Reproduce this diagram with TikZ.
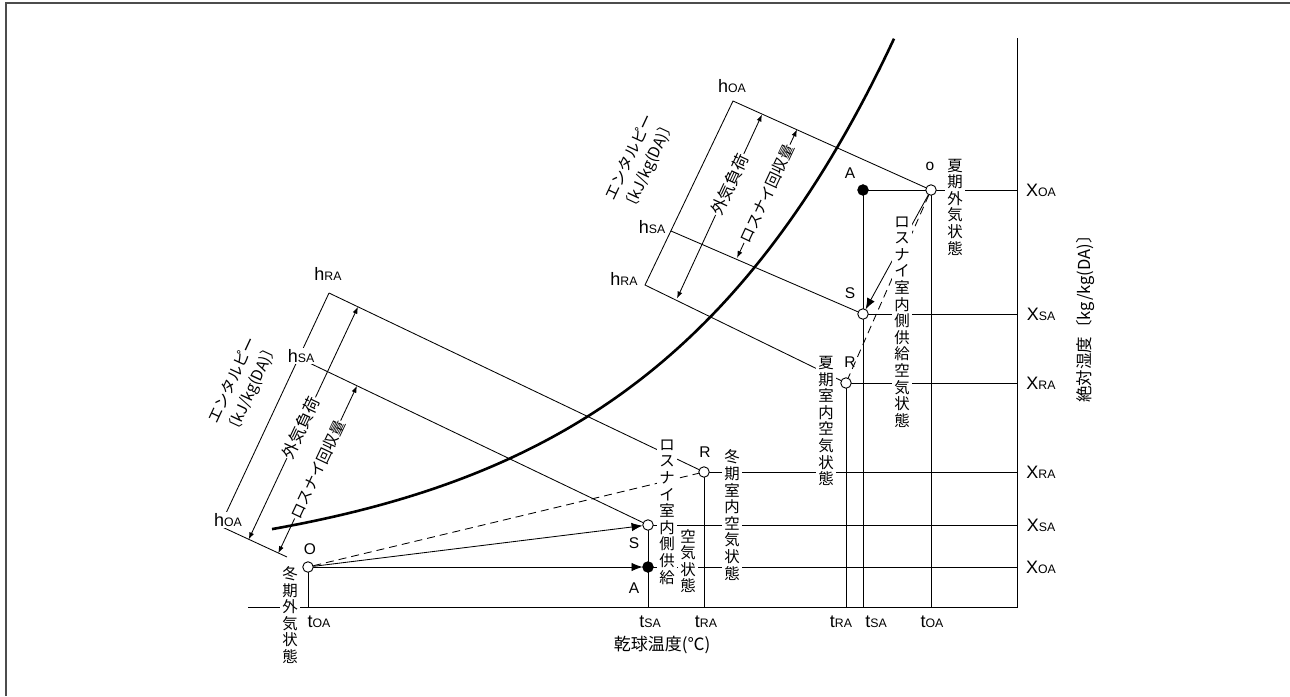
\documentclass[tikz,border=0pt]{standalone}
\usepackage{fontspec}
\setmainfont{Liberation Sans}
\newfontfamily\jp{Noto Sans CJK JP}
\usetikzlibrary{arrows.meta}
\newcommand\jv{\jp\fontsize{15.4}{16.6}\selectfont}
\newcommand\jh{\jp\fontsize{16.5}{21}\selectfont}
\newcommand\jr{\jp\fontsize{15.3}{21}\selectfont}
\newcommand\je{\jp\fontsize{15.5}{21}\selectfont}
\newcommand\lb[2]{{\fontsize{18}{18}\selectfont #1}{\fontsize{12.3}{12.3}\selectfont #2}}
\begin{document}
\begin{tikzpicture}[x=1pt,y=-1pt,
  ln/.style={line width=0.85pt},
  pto/.style={circle,draw,fill=white,minimum size=10.5pt,inner sep=0pt,line width=0.9pt},
  ptf/.style={circle,fill=black,draw,minimum size=11pt,inner sep=0pt},
  pth/.style={circle,minimum size=10.5pt,inner sep=0pt},
  vt/.style={fill=white,inner xsep=2.5pt,inner ysep=1pt,align=center,font=\jv},
  lab/.style={inner sep=1pt,font=\fontsize{15.5}{15.5}\selectfont},
  hl/.style={inner sep=1pt,fill=white},
  big/.style={-{Latex[length=11pt,width=8.5pt]}},
  dbl/.style={{Latex[length=7pt,width=5pt]}-{Latex[length=7pt,width=5pt]}},
  rot/.style={sloped,fill=white,inner xsep=0.5pt,inner ysep=1pt,font=\jh},
  rotr/.style={rot,font=\jr},
  dsh/.style={dash pattern=on 8pt off 5pt},
]
\useasboundingbox (0,0) rectangle (1290,696);
% frame
\draw[black!70,line width=1.3pt] (1290,3) -- (6,3) -- (6,696);

% key points (hidden, drawn later)
\node[pth] (wO) at (308,567) {};
\node[pth] (wA) at (648,567) {};
\node[pth] (wS) at (648,525) {};
\node[pth] (wR) at (704,472) {};
\node[pth] (sO) at (931,190) {};
\node[pth] (sA) at (863,190) {};
\node[pth] (sS) at (863,314) {};
\node[pth] (sR) at (846,383) {};

% axes
\coordinate (ax0) at (248,607);
\coordinate (axC) at (1017,607);
\coordinate (axT) at (1017,38);
\draw[ln] (ax0) -- (axC) -- (axT);

% grid lines to axes
\foreach \p in {wO,wA,wR,sA,sO,sR}{\draw[ln] (\p) -- (\p |- axC);}
\foreach \p in {wA,wS,wR,sA,sS,sR}{\draw[ln] (\p) -- (\p -| axC);}
\draw[ln] (wS) -- (wA);
\draw[ln] (sA) -- (sO);

% winter enthalpy scale
\coordinate (wHR) at (329,293);
\coordinate (wHS) at (299,358);
\coordinate (wHO) at (220,526);
\coordinate (wHOe) at (287,557);
\draw[ln] (wHR) -- (wHO) -- (wHOe);
\draw[ln] (wHR) -- (wR);
\draw[ln] (wHS) -- (wS);
\coordinate (wa1b) at (248.7,539.4);
\coordinate (wa1t) at (358,306.8);
\coordinate (wa2b) at (278.3,553.2);
\coordinate (wa2t) at (357,385.8);
\draw[ln,dbl] (wa1b) -- (wa1t);
\draw[ln,dbl] (wa2b) -- (wa2t);

% summer enthalpy scale
\coordinate (sHO) at (733,101);
\coordinate (sHS) at (671,231);
\coordinate (sHR) at (645,285);
\draw[ln] (sO) -- (sHO) -- (sHR) -- (sR);
\draw[ln] (sHS) -- (sS);
\coordinate (sa1b) at (677,298.5);
\coordinate (sa1t) at (762,114.5);
\coordinate (sa2b) at (737,258);
\coordinate (sa2t) at (797,129.5);
\draw[ln,dbl] (sa1b) -- (sa1t);
\draw[ln,dbl] (sa2b) -- (sa2t);

% process lines
\draw[ln,big] (wO) -- (wA);
\draw[ln,big] (wO) -- (wS);
\draw[ln,dsh] (wO) -- (wR);
\draw[ln,big] (sO) -- (sS);
\draw[ln,dsh] (sO) -- (sR);

% arrow labels along enthalpy scales
\path (wa1b) -- (wa1t) node[rot,pos=0.48] (lw1) {外気負荷};
\path (wa2b) -- (wa2t) node[rotr,pos=0.5] (lw2) {ロスナイ回収量};
\path (sa1b) -- (sa1t) node[rot,pos=0.62] (ls1) {外気負荷};
\path (sa2b) -- (sa2t) node[rotr,pos=0.5] (ls2) {ロスナイ回収量};
\node[rotate=65,align=center,font=\je,inner sep=1pt] (ew) at (243,385) {エンタルピー\\〔kJ/kg(DA)〕};
\node[rotate=65,align=center,font=\je,inner sep=1pt] (es) at (640,162) {エンタルピー\\〔kJ/kg(DA)〕};

% vertical texts
\node[vt] (v1) at (290,615) {冬\\期\\外\\気\\状\\態};
\node[vt] (v2) at (667,512) {ロ\\ス\\ナ\\イ\\室\\内\\側\\供\\給};
\node[vt] (v3) at (688,561) {空\\気\\状\\態};
\node[vt] (v4) at (732,515) {冬\\期\\室\\内\\空\\気\\状\\態};
\node[vt] (v5) at (826,421) {夏\\期\\室\\内\\空\\気\\状\\態};
\node[vt] (v6) at (902,322) {ロ\\ス\\ナ\\イ\\室\\内\\側\\供\\給\\空\\気\\状\\態};
\node[vt] (v7) at (955,207) {夏\\期\\外\\気\\状\\態};

% saturation curve
\draw[line width=2.6pt] plot[domain=272:894,samples=90] (\x,{573.6-15*exp(0.004*\x)});

% points
\node[pto] at (wO) {};
\node[ptf] at (wA) {};
\node[pto] at (wS) {};
\node[pto] at (wR) {};
\node[pto] at (sO) {};
\node[ptf] at (sA) {};
\node[pto] at (sS) {};
\node[pto] at (sR) {};

% point letters
\node[lab] (lwO) at (310,549) {O};
\node[lab] (lwS) at (634,543) {S};
\node[lab] (lwA) at (634,588) {A};
\node[lab] (lwR) at (705,452) {R};
\node[lab] (lsA) at (850,173) {A};
\node[lab] (lsO) at (930,166) {o};
\node[lab] (lsS) at (850,293) {S};
\node[lab] (lsR) at (850,362) {R};

% enthalpy tick labels
\node[hl] (hw1) at (328,274) {\lb{h}{RA}};
\node[hl] (hw2) at (301,356) {\lb{h}{SA}};
\node[hl] (hw3) at (228,520) {\lb{h}{OA}};
\node[hl] (hs1) at (732,86) {\lb{h}{OA}};
\node[hl] (hs2) at (652,227) {\lb{h}{SA}};
\node[hl] (hs3) at (624,279) {\lb{h}{RA}};

% temperature labels
\node[lab] (t1) at (319,622) {\lb{t}{OA}};
\node[lab] (t2) at (650,622) {\lb{t}{SA}};
\node[lab] (t3) at (706,622) {\lb{t}{RA}};
\node[lab] (t4) at (841,622) {\lb{t}{RA}};
\node[lab] (t5) at (876,622) {\lb{t}{SA}};
\node[lab] (t6) at (932,622) {\lb{t}{OA}};

% humidity labels
\node[lab] (x1) at (1041,190) {\lb{X}{OA}};
\node[lab] (x2) at (1041,314) {\lb{X}{SA}};
\node[lab] (x3) at (1041,383) {\lb{X}{RA}};
\node[lab] (x4) at (1041,472) {\lb{X}{RA}};
\node[lab] (x5) at (1041,525) {\lb{X}{SA}};
\node[lab] (x6) at (1041,567) {\lb{X}{OA}};

% axis titles
\node[font=\jp\fontsize{17}{17}\selectfont] (xlab) at (662,645) {乾球温度(℃)};
\node[rotate=90,font=\jp\fontsize{16.5}{16.5}\selectfont] (ylab) at (1085,315) {絶対湿度〔kg/kg(DA)〕};
\end{tikzpicture}
\end{document}
